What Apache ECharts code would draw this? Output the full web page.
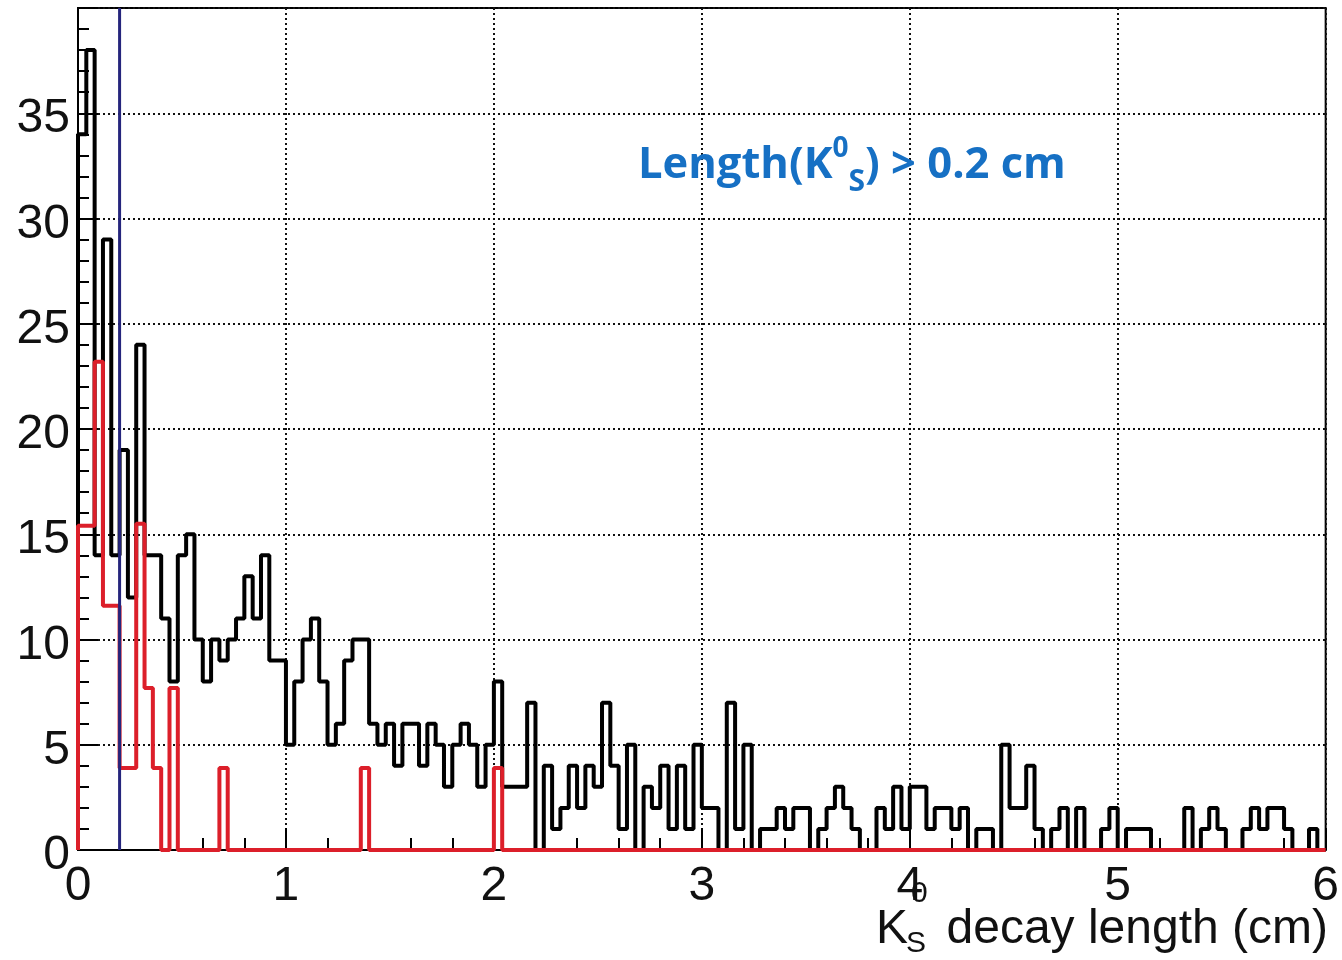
<!DOCTYPE html>
<html>
<head>
<meta charset="utf-8">
<title>K0S decay length</title>
<script src="https://cdn.jsdelivr.net/npm/echarts@6/dist/echarts.min.js"></script>
<style>
  html, body { margin: 0; padding: 0; background: #ffffff; }
  #chart { width: 1342px; height: 960px; }
</style>
</head>
<body>
<div id="chart"></div>
<script>
// Histogram binning: 150 bins of 0.04 cm over 0-6 cm
const xMin = 0;
const xMax = 6;
const binWidth = 0.04;

// Tick labels
const xTicks = [0, 1, 2, 3, 4, 5, 6];
const yTicks = [0, 5, 10, 15, 20, 25, 30, 35];

// All K0S candidates (counts per bin)
const allCounts = [
  34, 38, 14, 29, 14, 19, 12, 24, 14, 14, 11, 8, 14, 15, 10, 8, 10, 9, 10, 11, 13, 11, 14, 9, 9,
  5, 8, 10, 11, 8, 5, 6, 9, 10, 10, 6, 5, 6, 4, 6, 6, 4, 6, 5, 3, 5, 6, 5, 3, 5,
  8, 3, 3, 3, 7, 0, 4, 1, 2, 4, 2, 4, 3, 7, 4, 1, 5, 0, 3, 2, 4, 1, 4, 1, 5,
  2, 2, 0, 7, 1, 5, 0, 1, 1, 2, 1, 2, 2, 0, 1, 2, 3, 2, 1, 0, 0, 2, 1, 3, 1,
  3, 3, 1, 2, 2, 1, 2, 0, 1, 1, 0, 5, 2, 2, 4, 1, 0, 1, 2, 0, 2, 0, 0, 1, 2,
  0, 1, 1, 1, 0, 0, 0, 0, 2, 0, 1, 2, 1, 0, 0, 1, 2, 1, 2, 2, 1, 0, 0, 1, 0
];

// Selected subset (scaled), drawn in red
const selCounts = [
  15.4, 15.4, 23.2, 11.6, 11.6, 3.9, 3.9, 15.5, 7.7, 3.9, 0, 7.7, 0, 0, 0, 0, 0, 3.9, 0, 0, 0, 0, 0, 0, 0,
  0, 0, 0, 0, 0, 0, 0, 0, 0, 3.9, 0, 0, 0, 0, 0, 0, 0, 0, 0, 0, 0, 0, 0, 0, 0,
  3.9, 0, 0, 0, 0, 0, 0, 0, 0, 0, 0, 0, 0, 0, 0, 0, 0, 0, 0, 0, 0, 0, 0, 0, 0,
  0, 0, 0, 0, 0, 0, 0, 0, 0, 0, 0, 0, 0, 0, 0, 0, 0, 0, 0, 0, 0, 0, 0, 0, 0,
  0, 0, 0, 0, 0, 0, 0, 0, 0, 0, 0, 0, 0, 0, 0, 0, 0, 0, 0, 0, 0, 0, 0, 0, 0,
  0, 0, 0, 0, 0, 0, 0, 0, 0, 0, 0, 0, 0, 0, 0, 0, 0, 0, 0, 0, 0, 0, 0, 0, 0
];

// Decay-length cut
const lengthCut = 0.2;

// Outline points for a step histogram (left edge of each bin, closed at both ends)
function outline(counts) {
  const pts = [[xMin, 0]];
  counts.forEach(function (c, i) { pts.push([xMin + i * binWidth, c]); });
  const end = xMin + counts.length * binWidth;
  pts.push([end, counts[counts.length - 1]]);
  pts.push([end, 0]);
  return pts;
}

const labelFont = 'Liberation Sans, Arial, sans-serif';
const textColor = '#111111';
const gridDots = { type: [2, 3], width: 2, color: '#111111' };
const blue = '#1670c4';

const chart = echarts.init(document.getElementById('chart'), null, { renderer: 'canvas' });

chart.setOption({
  animation: false,
  backgroundColor: '#ffffff',
  grid: {
    left: 78, right: 14, top: 8, bottom: 110,
    show: true, borderColor: '#000000', borderWidth: 2,
    backgroundColor: 'transparent'
  },
  xAxis: {
    type: 'value',
    min: xMin, max: xMax, interval: 1,
    axisLine: { show: true, onZero: false, lineStyle: { color: '#000', width: 2 } },
    axisTick: { show: true, inside: true, length: 22, lineStyle: { color: '#000', width: 2 } },
    minorTick: { show: true, splitNumber: 5, length: 12, lineStyle: { color: '#000', width: 2 } },
    splitLine: { show: true, lineStyle: gridDots },
    axisLabel: {
      show: true, margin: 13, color: textColor, fontSize: 48, fontFamily: labelFont,
      showMinLabel: true, showMaxLabel: true,
      formatter: function (v) { return xTicks.indexOf(v) >= 0 ? String(v) : ''; }
    }
  },
  yAxis: {
    type: 'value',
    min: 0, max: 40, interval: 5,
    axisLine: { show: true, onZero: false, lineStyle: { color: '#000', width: 2 } },
    axisTick: { show: true, inside: true, length: 20, lineStyle: { color: '#000', width: 2 } },
    minorTick: { show: true, splitNumber: 5, length: 11, lineStyle: { color: '#000', width: 2 } },
    splitLine: { show: true, lineStyle: gridDots },
    axisLabel: {
      show: true, margin: 8,
      showMinLabel: true, showMaxLabel: false,
      formatter: function (v) { return yTicks.indexOf(v) >= 0 ? '{n|' + v + '}' : ''; },
      rich: {
        n: { fontSize: 48, fontFamily: labelFont, color: textColor, padding: [12, 0, 0, 0] }
      }
    }
  },
  series: [
    {
      name: 'all',
      type: 'line', step: 'end', symbol: 'none', clip: true, z: 3,
      lineStyle: { color: '#000000', width: 4 },
      data: outline(allCounts)
    },
    {
      name: 'selected',
      type: 'line', step: 'end', symbol: 'none', clip: true, z: 4,
      lineStyle: { color: '#dc1f2a', width: 4 },
      data: outline(selCounts)
    },
    {
      name: 'cut',
      type: 'line', symbol: 'none', clip: true, z: 5,
      lineStyle: { color: '#25257c', width: 3 },
      data: [[lengthCut, 0], [lengthCut, 40]]
    }
  ],
  graphic: [
    {
      type: 'text', left: 638, top: 135, z: 10,
      style: {
        text: '{m|Length(K}{sup|0}{sub|S}{m|) > 0.2 cm}',
        rich: {
          m: { fontSize: 43.5, fontWeight: 'bold', fontFamily: 'Open Sans, sans-serif', fill: blue, lineHeight: 62, verticalAlign: 'middle' },
          sup: { fontSize: 28, fontWeight: 'bold', fontFamily: 'Open Sans, sans-serif', fill: blue, lineHeight: 34, verticalAlign: 'top' },
          sub: { fontSize: 30, fontWeight: 'bold', fontFamily: 'Open Sans, sans-serif', fill: blue, lineHeight: 34, verticalAlign: 'bottom' }
        }
      }
    },
    {
      type: 'text', z: 10,
      style: { text: 'decay length (cm)', x: 1328, y: 930, align: 'right', verticalAlign: 'middle',
               fontSize: 48, fontFamily: labelFont, fill: textColor }
    },
    {
      type: 'text', z: 10,
      style: { text: 'K', x: 876, y: 930, align: 'left', verticalAlign: 'middle',
               fontSize: 48, fontFamily: labelFont, fill: textColor }
    },
    {
      type: 'text', z: 10,
      style: { text: '0', x: 911, y: 894, align: 'left', verticalAlign: 'middle',
               fontSize: 30, fontFamily: labelFont, fill: textColor }
    },
    {
      type: 'text', z: 10,
      style: { text: 'S', x: 906, y: 944, align: 'left', verticalAlign: 'middle',
               fontSize: 30, fontFamily: labelFont, fill: textColor }
    }
  ]
});
</script>
</body>
</html>
